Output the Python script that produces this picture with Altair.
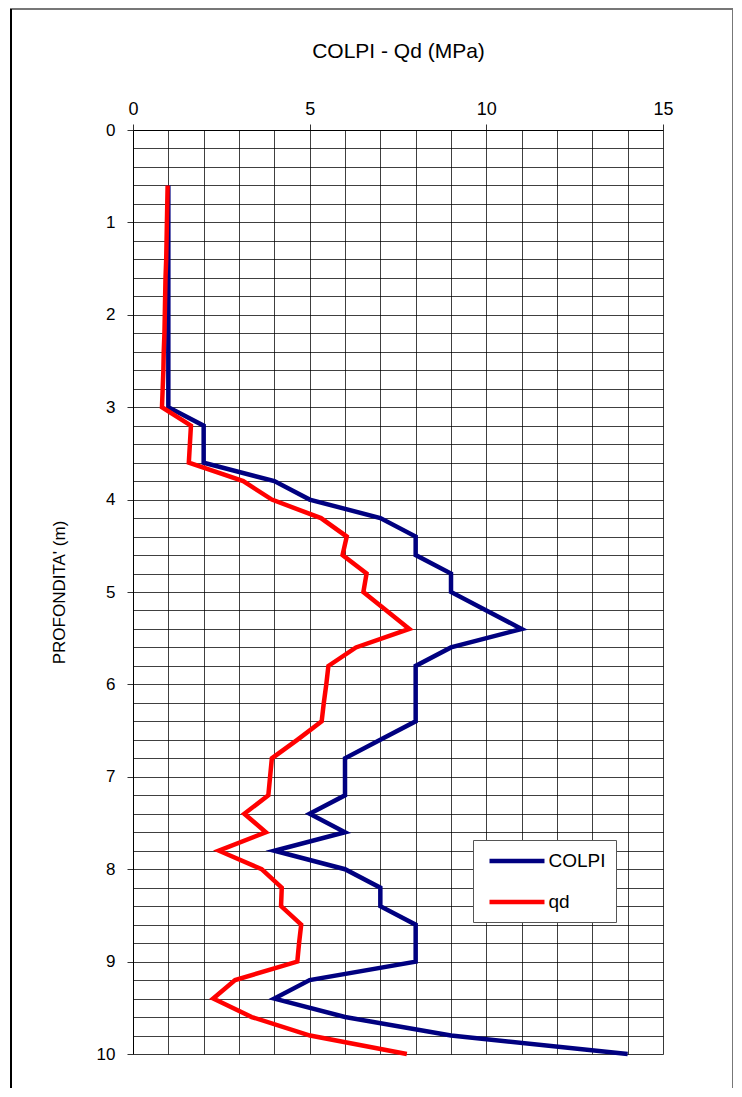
import altair as alt
import pandas as pd

depths = [0.6, 0.8, 1.0, 1.2, 1.4, 1.6, 1.8, 2.0, 2.2, 2.4, 2.6, 2.8, 3.0,
          3.2, 3.4, 3.6, 3.8, 4.0, 4.2, 4.4, 4.6, 4.8, 5.0, 5.2, 5.4, 5.6,
          5.8, 6.0, 6.2, 6.4, 6.6, 6.8, 7.0, 7.2, 7.4, 7.6, 7.8, 8.0, 8.2,
          8.4, 8.6, 8.8, 9.0, 9.2, 9.4, 9.6, 9.8, 10.0]
colpi = [1, 1, 1, 1, 1, 1, 1, 1, 1, 1, 1, 1, 1,
         2, 2, 2, 4, 5, 7, 8, 8, 9, 9, 10, 11, 9,
         8, 8, 8, 8, 7, 6, 6, 6, 5, 6, 4, 6, 7,
         7, 8, 8, 8, 5, 4, 6, 9, 14]
qd = [0.98, 0.97, 0.96, 0.95, 0.94, 0.92, 0.91, 0.90, 0.89, 0.87, 0.86, 0.84, 0.82,
      1.64, 1.61, 1.58, 3.12, 3.93, 5.32, 6.05, 5.93, 6.61, 6.52, 7.17, 7.82, 6.31,
      5.53, 5.47, 5.40, 5.34, 4.65, 3.93, 3.88, 3.83, 3.15, 3.76, 2.43, 3.64, 4.21,
      4.19, 4.76, 4.70, 4.65, 2.89, 2.27, 3.36, 5.01, 7.75]

series_names = ["COLPI", "qd"]
series_colors = ["#000080", "#FF0000"]
x_grid_values = list(range(0, 16))
x_label_values = [0, 5, 10, 15]
y_grid_values = [round(i * 0.2, 1) for i in range(0, 51)]
y_label_values = list(range(0, 11))

rows = []
for d, c, q in zip(depths, colpi, qd):
    rows.append({"depth": d, "value": c, "serie": "COLPI"})
    rows.append({"depth": d, "value": q, "serie": "qd"})
df = pd.DataFrame(rows)

FONT = "Liberation Sans"

xscale = alt.Scale(domain=[0, 15], nice=False, zero=False)
yscale = alt.Scale(domain=[0, 10], reverse=True, nice=False, zero=False)

lines = alt.Chart(df).mark_line(strokeWidth=4.5, strokeJoin="miter", clip=False).encode(
    x=alt.X("value:Q", scale=xscale,
            axis=alt.Axis(orient="top", values=x_grid_values, labels=False, ticks=False,
                          grid=True, gridColor="#000000", gridOpacity=0.75, gridWidth=1,
                          domain=False, title=None)),
    y=alt.Y("depth:Q", scale=yscale,
            axis=alt.Axis(orient="left", values=y_grid_values, labels=False, ticks=False,
                          grid=True, gridColor="#000000", gridOpacity=0.75, gridWidth=1,
                          domain=False, title=None)),
    color=alt.Color("serie:N", scale=alt.Scale(domain=series_names, range=series_colors),
                    legend=alt.Legend(orient="none", legendX=340, legendY=710, title=None,
                                      direction="vertical", symbolType="M-3,0H3",
                                      symbolSize=336, symbolStrokeWidth=4.5,
                                      labelFont=FONT, labelFontSize=19, labelColor="#000",
                                      fillColor="#ffffff", strokeColor="#555555",
                                      padding=9.5, rowPadding=19, labelOffset=20,
                                      symbolOffset=23)),
    order=alt.Order("depth:Q"),
)

axes_layer = alt.Chart(df).mark_point(opacity=0).encode(
    x=alt.X("value:Q", scale=xscale,
            axis=alt.Axis(orient="top", values=x_label_values, grid=False, ticks=True,
                          tickSize=6, tickColor="#333", domain=True, domainColor="#000",
                          labelFont=FONT, labelFontSize=18, labelColor="#000",
                          labelPadding=6, labelFlush=False,
                          title="COLPI - Qd (MPa)", titleFont=FONT, titleFontSize=21,
                          titleFontWeight="normal", titleColor="#000", titlePadding=39)),
    y=alt.Y("depth:Q", scale=yscale,
            axis=alt.Axis(orient="left", values=y_label_values, grid=False, ticks=True,
                          tickSize=6, tickColor="#333", domain=True, domainColor="#000",
                          labelFont=FONT, labelFontSize=17, labelColor="#000",
                          labelPadding=12, labelFlush=False,
                          title="PROFONDITA' (m)", titleFont=FONT, titleFontSize=17,
                          titleFontWeight="normal", titleColor="#000", titlePadding=28)),
)

frame = alt.Chart(df).mark_rect(fill="#ffffff", fillOpacity=0, stroke="#777777",
                                strokeWidth=2, clip=False).encode(
    x=alt.value(-122), x2=alt.value(600), y=alt.value(-121), y2=alt.value(970)
)
left_edge = alt.Chart(df).mark_rule(color="#000", strokeWidth=1.5, clip=False).encode(
    x=alt.value(-122), y=alt.value(-121), y2=alt.value(970)
)

chart = alt.layer(frame, left_edge, lines, axes_layer).resolve_axis(
    x="independent", y="independent"
).properties(
    width=530, height=924,
    autosize=alt.AutoSizeParams(type="none"),
    padding={"left": 125, "top": 122, "right": 70, "bottom": 34},
).configure_view(stroke="#000", strokeWidth=1).configure(background="#ffffff")

chart.save("out.html", embed_options={"renderer": "svg", "actions": False})
